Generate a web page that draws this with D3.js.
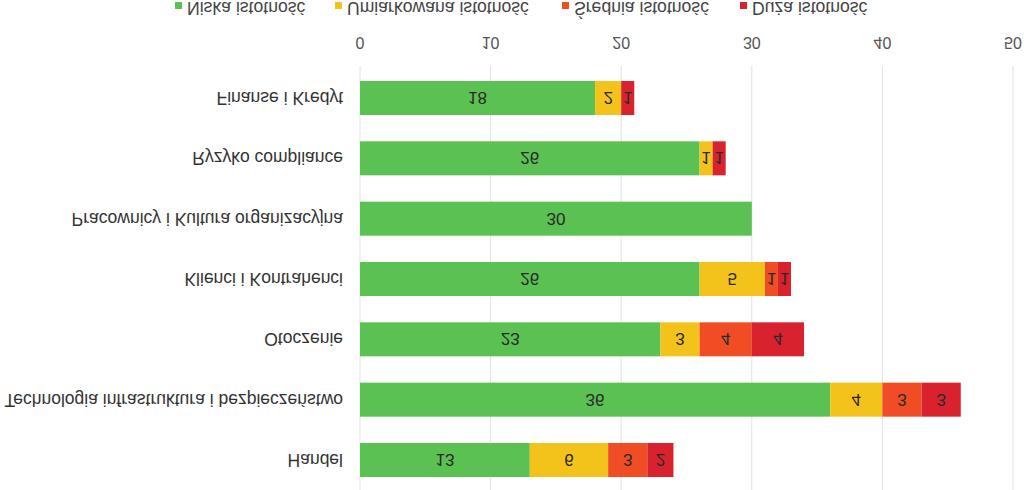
<!DOCTYPE html>
<html>
<head>
<meta charset="utf-8">
<script src="https://cdn.jsdelivr.net/npm/d3@7"></script>
<style>
  body { margin: 0; background: #fff; }
  svg { display: block; font-family: "Liberation Sans", Arial, sans-serif; }
</style>
</head>
<body>
<svg id="chart"></svg>
<script>
// categories, bottom-up order of the original chart
const categories = ['Handel', 'Technologia infrastruktura i bezpieczeństwo', 'Otoczenie',
  'Klienci i Kontrahenci', 'Pracownicy i Kultura organizacyjna', 'Ryzyko compliance', 'Finanse i Kredyt'];
const seriesNames = ['Niska istotność', 'Umiarkowana istotność', 'Średnia istotność', 'Duża istotność'];
const niska = [13, 36, 23, 26, 30, 26, 18];
const umiarkowana = [6, 4, 3, 5, 0, 1, 2];
const srednia = [3, 3, 4, 1, 0, 0, 0];
const duza = [2, 3, 4, 1, 0, 1, 1];
const xTicks = [0, 10, 20, 30, 40, 50];
const colors = ['#5bc152', '#f4c31b', '#f04d24', '#d8222e'];

let width = 1024;
let height = 490;

let rows = categories.map((c, i) => ({
  cat: c,
  Niska: niska[i], Umiarkowana: umiarkowana[i], Srednia: srednia[i], Duza: duza[i]
}));
let keys = ['Niska', 'Umiarkowana', 'Srednia', 'Duza'];
let stacked = d3.stack().keys(keys)(rows);

let svg = d3.select('#chart')
            .attr('width', width)
            .attr('height', height);

// the reference is shown mirrored top to bottom
let g = svg.append('g')
           .attr('transform', `translate(0,${height}) scale(1,-1)`);

let xScale = d3.scaleLinear()
               .domain([0, 50])
               .range([360, 1013]);

let yScale = d3.scalePoint()
               .domain(categories)
               .range([30, 392]);

let barH = 34;

// grid
g.append('g')
  .selectAll('line')
  .data(xTicks)
  .enter()
  .append('line')
  .attr('x1', d => xScale(d))
  .attr('x2', d => xScale(d))
  .attr('y1', 0)
  .attr('y2', 424)
  .style('stroke', '#e2e2e2')
  .style('stroke-width', 1);

// x axis labels
g.append('g')
  .selectAll('text')
  .data(xTicks)
  .enter()
  .append('text')
  .attr('x', d => xScale(d))
  .attr('y', 453)
  .style('text-anchor', 'middle')
  .style('font-size', '16px')
  .style('fill', '#555')
  .text(d => d);

// bars
let layers = g.selectAll('.layer')
  .data(stacked)
  .enter()
  .append('g')
  .attr('fill', (d, i) => colors[i]);

layers.selectAll('rect')
  .data(d => d.filter(p => p[1] > p[0]))
  .enter()
  .append('rect')
  .attr('x', d => xScale(d[0]))
  .attr('width', d => xScale(d[1]) - xScale(d[0]))
  .attr('y', d => yScale(d.data.cat) - barH / 2)
  .attr('height', barH);

layers.selectAll('text')
  .data(d => d.filter(p => p[1] > p[0]))
  .enter()
  .append('text')
  .attr('x', d => (xScale(d[0]) + xScale(d[1])) / 2)
  .attr('y', d => yScale(d.data.cat) + 6)
  .style('text-anchor', 'middle')
  .style('font-size', '17px')
  .style('fill', '#2a2a2a')
  .text(d => d[1] - d[0]);

// category labels
g.append('g')
  .selectAll('text')
  .data(categories)
  .enter()
  .append('text')
  .attr('x', 343)
  .attr('y', d => yScale(d) + 6)
  .style('text-anchor', 'end')
  .style('font-size', '17.5px')
  .style('fill', '#333')
  .text(d => d);

// legend
let legendX = [175, 335, 562, 740];
let legend = g.append('g')
  .selectAll('g')
  .data(seriesNames)
  .enter()
  .append('g')
  .attr('transform', (d, i) => `translate(${legendX[i]},0)`);

legend.append('rect')
  .attr('x', 0)
  .attr('y', 481)
  .attr('width', 7)
  .attr('height', 7)
  .attr('fill', (d, i) => colors[i]);

legend.append('text')
  .attr('x', 12)
  .attr('y', 488)
  .style('font-size', '17.6px')
  .style('fill', '#444')
  .text(d => d);
</script>
</body>
</html>
